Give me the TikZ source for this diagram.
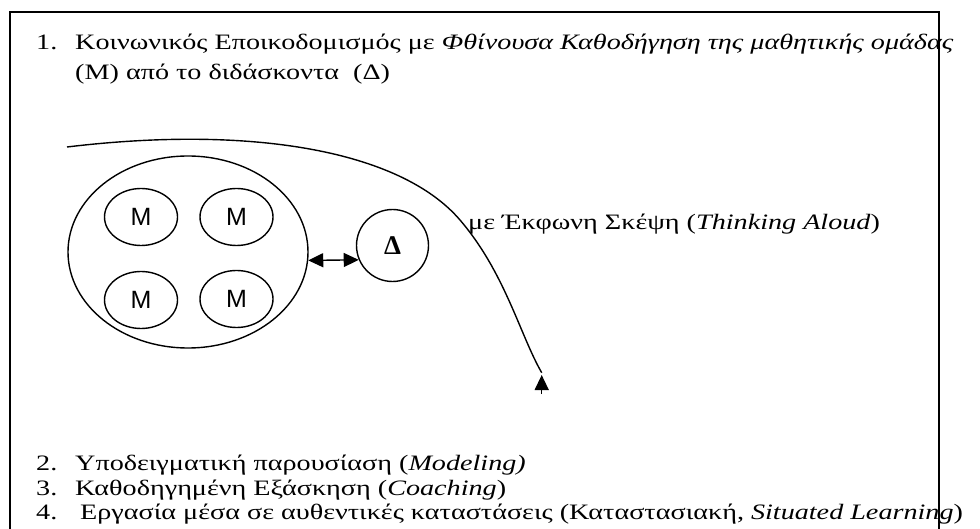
\documentclass[tikz,border=0pt]{standalone}
\usepackage{fontspec}
\setmainfont[FakeStretch=1.28]{Liberation Serif}
\newfontfamily\msans{Liberation Sans}
\newfontfamily\dserif{Liberation Serif}
\usetikzlibrary{shapes.geometric,arrows.meta}
\tikzset{
  txt/.style={anchor=base west,inner sep=0pt,font=\fontsize{22}{26}\selectfont},
  line/.style={line width=1.4pt},
  grpell/.style={draw,line width=1.4pt,ellipse,inner sep=0pt,minimum width=240pt,minimum height=192pt},
  mell/.style={draw,line width=1.4pt,ellipse,inner sep=0pt,minimum width=73pt,minimum height=57pt,font=\msans\fontsize{25}{26}\selectfont},
  dcirc/.style={draw,line width=1.4pt,circle,inner sep=0pt,minimum size=72pt,font=\dserif\bfseries\fontsize{27}{28}\selectfont},
  tri/.tip={Triangle[length=15pt,width=14pt]}
}
\begin{document}
\begin{tikzpicture}[x=1pt,y=-1pt]
\useasboundingbox (0,0) rectangle (980,529);
\coordinate (fa) at (10,529);
\coordinate (fb) at (10,12);
\coordinate (fc) at (939,12);
\coordinate (fd) at (939,529);
\draw[line] (fa) -- (fb) -- (fc) -- (fd);

\node[txt] (n1) at (36,50) {1.};
\node[txt] (t1) at (75,50) {Κοινωνικός Εποικοδομισμός με \textit{Φθίνουσα Καθοδήγηση της μαθητικής ομάδας}};
\node[txt] (t1b) at (75,80) {(Μ) από το διδάσκοντα\ \ (Δ)};

\node[grpell] (grp) at (188,252) {};
\node[mell] (m1) at (141,217) {Μ};
\node[mell] (m2) at (236.5,217) {Μ};
\node[mell] (m3) at (141,300) {Μ};
\node[mell] (m4) at (236.5,299) {Μ};
\node[dcirc] (D) at (392.5,245.5) {Δ};
\draw[line,tri-tri] (grp.-4) -- (D.203);

\coordinate (cs) at (67,147);
\coordinate (ce) at (541.7,372.7);
\draw[line] (cs) .. controls (250,125) and (400,150) .. (460,220)
            .. controls (505,272.5) and (520,335) .. (ce);
\coordinate (as) at (541.7,394);
\coordinate (at) at (541.7,375);
\draw[line,-tri] (as) -- (at);

\node[txt] (lbl) at (468,230) {με Έκφωνη Σκέψη (\textit{Thinking Aloud})};

\node[txt] (n2) at (36,470) {2.};
\node[txt] (t2) at (75,470) {Υποδειγματική παρουσίαση (\textit{Modeling)}};
\node[txt] (n3) at (36,495) {3.};
\node[txt] (t3) at (75,495) {Καθοδηγημένη Εξάσκηση (\textit{Coaching})};
\node[txt] (n4) at (36,519) {4.};
\node[txt] (t4) at (80,519) {Εργασία μέσα σε αυθεντικές καταστάσεις (Καταστασιακή, \textit{Situated Learning})};
\end{tikzpicture}
\end{document}
